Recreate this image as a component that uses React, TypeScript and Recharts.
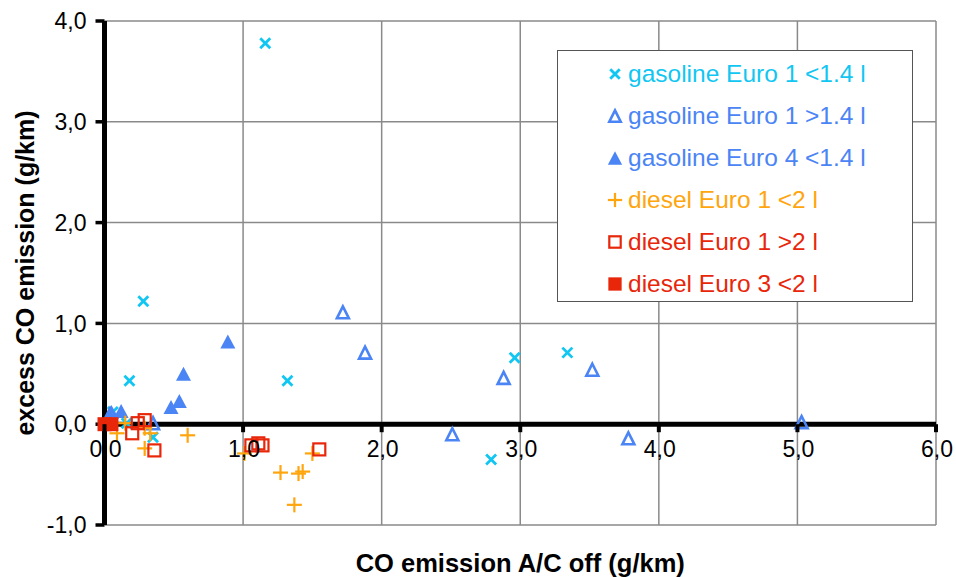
import React from 'react';
import { ScatterChart, Scatter, XAxis, YAxis, CartesianGrid, ReferenceLine, Legend } from 'recharts';

// ---- data ----
const xTicks = [0, 1, 2, 3, 4, 5, 6];
const yTicks = [-1, 0, 1, 2, 3, 4];

const gasolineEuro1Small = [
  { x: 1.16, y: 3.78 },
  { x: 0.28, y: 1.22 },
  { x: 0.18, y: 0.43 },
  { x: 1.32, y: 0.43 },
  { x: 2.96, y: 0.66 },
  { x: 3.34, y: 0.71 },
  { x: 2.79, y: -0.35 },
  { x: 0.35, y: -0.13 },
  { x: 0.16, y: 0.01 },
  { x: 0.06, y: 0.12 },
];
const gasolineEuro1Large = [
  { x: 1.72, y: 1.11 },
  { x: 1.88, y: 0.71 },
  { x: 2.88, y: 0.46 },
  { x: 3.52, y: 0.54 },
  { x: 2.51, y: -0.1 },
  { x: 3.78, y: -0.14 },
  { x: 5.03, y: 0.02 },
  { x: 0.35, y: 0.01 },
  { x: 0.04, y: 0.1 },
];
const gasolineEuro4Small = [
  { x: 0.89, y: 0.82 },
  { x: 0.57, y: 0.5 },
  { x: 0.54, y: 0.23 },
  { x: 0.48, y: 0.17 },
  { x: 0.05, y: 0.12 },
  { x: 0.12, y: 0.13 },
];
const dieselEuro1Small = [
  { x: 0.6, y: -0.11 },
  { x: 1.01, y: -0.29 },
  { x: 1.27, y: -0.48 },
  { x: 1.4, y: -0.49 },
  { x: 1.43, y: -0.47 },
  { x: 1.37, y: -0.8 },
  { x: 1.5, y: -0.29 },
  { x: 0.09, y: -0.09 },
  { x: 0.15, y: 0.01 },
  { x: 0.29, y: -0.24 },
  { x: 0.29, y: -0.04 },
  { x: 0.33, y: -0.09 },
];
const dieselEuro1Large = [
  { x: 1.06, y: -0.21 },
  { x: 1.11, y: -0.19 },
  { x: 1.14, y: -0.21 },
  { x: 1.55, y: -0.25 },
  { x: 0.2, y: -0.09 },
  { x: 0.24, y: 0.01 },
  { x: 0.29, y: 0.04 },
  { x: 0.36, y: -0.26 },
];
const dieselEuro3Small = [
  { x: 0.0, y: 0.0 },
  { x: 0.05, y: 0.0 },
];

const CYAN = '#12C6F2';
const BLUE = '#4A84F5';
const ORANGE = '#FFA50D';
const RED = '#E8260A';

type Kind = 'cross' | 'triOpen' | 'triFilled' | 'plus' | 'sqOpen' | 'sqFilled';

const series: { name: string; data: { x: number; y: number }[]; color: string; kind: Kind }[] = [
  { name: 'gasoline Euro 1 <1.4 l', data: gasolineEuro1Small, color: CYAN, kind: 'cross' },
  { name: 'gasoline Euro 1 >1.4 l', data: gasolineEuro1Large, color: BLUE, kind: 'triOpen' },
  { name: 'gasoline Euro 4 <1.4 l', data: gasolineEuro4Small, color: BLUE, kind: 'triFilled' },
  { name: 'diesel Euro 1 <2 l', data: dieselEuro1Small, color: ORANGE, kind: 'plus' },
  { name: 'diesel Euro 1 >2 l', data: dieselEuro1Large, color: RED, kind: 'sqOpen' },
  { name: 'diesel Euro 3 <2 l', data: dieselEuro3Small, color: RED, kind: 'sqFilled' },
];

// ---- layout ----
const W = 956;
const H = 577;
const PLOT_TOP = 21;
const PLOT_BOTTOM = 525;
const PLOT_LEFT = 104.5;
const PLOT_RIGHT = 936;
const Y_AXIS_W = 64;
const X_AXIS_H = 30;
const Y_MIN = -1;
const Y_MAX = 4;
const PLOT_H = PLOT_BOTTOM - PLOT_TOP;
const Y0 = PLOT_TOP + (PLOT_H * Y_MAX) / (Y_MAX - Y_MIN);

const FONT = '"Liberation Sans", Arial, sans-serif';
const fmt = (v: number) => v.toFixed(1).replace('.', ',');

function Marker({ kind, cx, cy, color, s = 1 }: { kind: Kind; cx: number; cy: number; color: string; s?: number }) {
  if (cx == null || cy == null || isNaN(cx) || isNaN(cy)) return null;
  switch (kind) {
    case 'cross': {
      const r = 5 * s;
      return (
        <g stroke={color} strokeWidth={2.8}>
          <line x1={cx - r} y1={cy - r} x2={cx + r} y2={cy + r} />
          <line x1={cx - r} y1={cy + r} x2={cx + r} y2={cy - r} />
        </g>
      );
    }
    case 'triOpen': {
      const w = 6 * s;
      const h = 6 * s;
      return (
        <polygon
          points={`${cx},${cy - h} ${cx + w},${cy + h} ${cx - w},${cy + h}`}
          fill="none"
          stroke={color}
          strokeWidth={2.6}
        />
      );
    }
    case 'triFilled': {
      const w = 7.5 * s;
      const h = 7 * s;
      return <polygon points={`${cx},${cy - h} ${cx + w},${cy + h} ${cx - w},${cy + h}`} fill={color} />;
    }
    case 'plus': {
      const r = 7.5 * s;
      return (
        <g stroke={color} strokeWidth={2.2}>
          <line x1={cx - r} y1={cy} x2={cx + r} y2={cy} />
          <line x1={cx} y1={cy - r} x2={cx} y2={cy + r} />
        </g>
      );
    }
    case 'sqOpen': {
      const r = 6 * s;
      return <rect x={cx - r} y={cy - r} width={2 * r} height={2 * r} fill="none" stroke={color} strokeWidth={2.2} />;
    }
    case 'sqFilled': {
      const r = 7 * s;
      return <rect x={cx - r} y={cy - r} width={2 * r} height={2 * r} fill={color} />;
    }
  }
  return null;
}

function XTick(props: any) {
  const { x, payload } = props;
  return (
    <g>
      <line x1={x} x2={x} y1={Y0} y2={Y0 + 8} stroke="#000" strokeWidth={4} />
      <text x={x + 1} y={Y0 + 33} textAnchor="middle" fill="#000" fontSize={23} fontFamily={FONT}>
        {fmt(payload.value)}
      </text>
    </g>
  );
}

function YLabel() {
  const cx = 25;
  const cy = (PLOT_TOP + PLOT_BOTTOM) / 2;
  return (
    <text
      x={cx}
      y={cy}
      transform={`rotate(-90 ${cx} ${cy})`}
      textAnchor="middle"
      dominantBaseline="central"
      fontSize={25}
      fontWeight="bold"
      fontFamily={FONT}
      fill="#000"
    >
      excess CO emission (g/km)
    </text>
  );
}

function XLabel() {
  const cx = (PLOT_LEFT + PLOT_RIGHT) / 2;
  const cy = 563;
  return (
    <text x={cx} y={cy} textAnchor="middle" dominantBaseline="central" fontSize={25.5} fontWeight="bold" fontFamily={FONT} fill="#000">
      CO emission A/C off (g/km)
    </text>
  );
}

function LegendBox() {
  return (
    <div
      style={{
        width: 356,
        height: 252,
        boxSizing: 'border-box',
        border: '1.5px solid #555',
        background: '#fff',
        paddingTop: 2,
        fontFamily: FONT,
      }}
    >
      {series.map((s) => (
        <div key={s.name} style={{ height: 42, position: 'relative' }}>
          <svg width={20} height={20} style={{ position: 'absolute', left: 47, top: 11 }}>
            <Marker kind={s.kind} cx={10} cy={10} color={s.color} s={0.95} />
          </svg>
          <span style={{ position: 'absolute', left: 70, fontSize: 24.5, color: s.color, whiteSpace: 'nowrap', lineHeight: '42px', top: 0 }}>
            {s.name}
          </span>
        </div>
      ))}
    </div>
  );
}

export default function App() {
  return (
    <div style={{ position: 'absolute', left: 0, top: 0, width: W, height: H, background: '#fff' }}>
      <ScatterChart
        width={W}
        height={H}
        margin={{ top: PLOT_TOP, right: W - PLOT_RIGHT, bottom: H - PLOT_BOTTOM - X_AXIS_H, left: PLOT_LEFT - Y_AXIS_W }}
      >
        <CartesianGrid stroke="#8a8a8a" strokeWidth={1.5} horizontalValues={yTicks} verticalValues={xTicks} />
        <XAxis
          type="number"
          dataKey="x"
          domain={[0, 6]}
          ticks={xTicks}
          interval={0}
          axisLine={false}
          tickLine={false}
          height={X_AXIS_H}
          tick={<XTick />}
          label={<XLabel />}
        />
        <YAxis
          type="number"
          dataKey="y"
          domain={[Y_MIN, Y_MAX]}
          ticks={yTicks}
          interval={0}
          width={Y_AXIS_W}
          axisLine={{ stroke: '#000', strokeWidth: 5 }}
          tickLine={{ stroke: '#000', strokeWidth: 3.5 }}
          tickSize={9}
          tickMargin={9}
          tickFormatter={fmt}
          tick={{ fill: '#000', fontSize: 23, fontFamily: FONT }}
          label={<YLabel />}
        />
        <ReferenceLine y={0} stroke="#000" strokeWidth={5} />
        {series.map((s) => (
          <Scatter
            key={s.name}
            name={s.name}
            data={s.data}
            fill={s.color}
            isAnimationActive={false}
            shape={(p: any) => <Marker kind={s.kind} cx={p.cx} cy={p.cy} color={s.color} />}
          />
        ))}
        <Legend
          layout="vertical"
          align="center"
          verticalAlign="middle"
          wrapperStyle={{ left: 557, top: 50, width: 356, height: 252 }}
          content={() => <LegendBox />}
        />
      </ScatterChart>
    </div>
  );
}
